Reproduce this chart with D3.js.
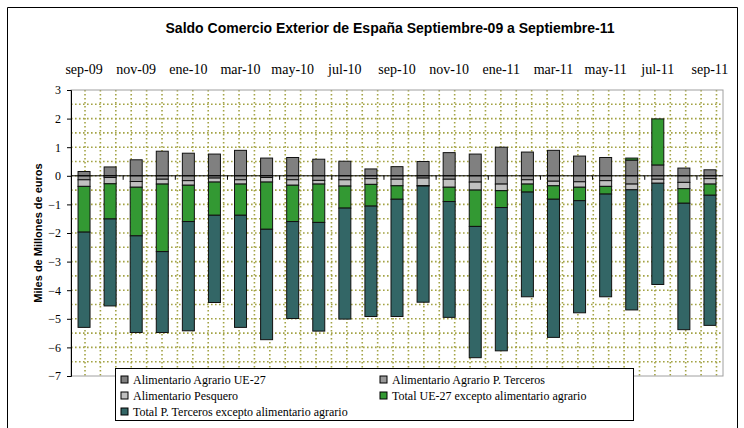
<!DOCTYPE html>
<meta charset="utf-8">
<style>
body { margin: 0; }
</style>
<svg width="744" height="428" font-family="Liberation Serif"></svg>
<script src="https://cdn.jsdelivr.net/npm/d3@7"></script>
<script>

// months on the x axis
var months = ["sep-09","oct-09","nov-09","dic-09","ene-10","feb-10","mar-10","abr-10",
  "may-10","jun-10","jul-10","ago-10","sep-10","oct-10","nov-10","dic-10","ene-11",
  "feb-11","mar-11","abr-11","may-11","jun-11","jul-11","ago-11","sep-11"];

// series, miles de millones de euros
var agrarioUE = [0.15,0.31,0.56,0.86,0.79,0.76,0.89,0.62,0.64,0.58,0.51,0.24,0.32,
  0.50,0.81,0.76,1.00,0.83,0.89,0.69,0.64,0.55,0.38,0.27,0.21];
var agrarioTerceros = [-0.14,-0.06,-0.20,-0.12,-0.17,-0.08,-0.14,-0.06,-0.14,-0.16,-0.14,
  -0.10,-0.12,-0.08,-0.12,-0.22,-0.29,-0.14,-0.19,-0.21,-0.17,-0.29,-0.12,-0.23,-0.10];
var pesquero = [-0.23,-0.22,-0.20,-0.17,-0.16,-0.14,-0.15,-0.16,-0.19,-0.13,-0.22,-0.20,
  -0.23,-0.26,-0.28,-0.28,-0.23,-0.15,-0.16,-0.19,-0.20,-0.20,-0.14,-0.22,-0.19];
var totalUE = [-1.60,-1.23,-1.70,-2.36,-1.27,-1.16,-1.09,-1.65,-1.27,-1.34,-0.77,-0.76,
  -0.47,-0.02,-0.50,-1.27,-0.59,-0.28,-0.47,-0.47,-0.27,0.07,1.61,-0.51,-0.39];
var totalTerceros = [-3.33,-3.04,-3.38,-2.83,-3.82,-3.05,-3.92,-3.86,-3.39,-3.80,-3.88,
  -3.86,-4.10,-4.06,-4.05,-4.59,-5.01,-3.66,-4.83,-3.92,-3.59,-4.20,-3.54,-4.42,-4.55];

var seriesNames = ["Alimentario Agrario UE-27", "Alimentario Agrario P. Terceros",
  "Alimentario Pesquero", "Total UE-27 excepto alimentario agrario",
  "Total P. Terceros excepto alimentario agrario"];
var seriesValues = [agrarioUE, agrarioTerceros, pesquero, totalUE, totalTerceros];
var colors = ["#808080", "#999999", "#c0c0c0", "#339933", "#336666"];
var yTicks = [3, 2, 1, 0, -1, -2, -3, -4, -5, -6, -7];

var svg = d3.select("svg"),
    plot = {left: 71, right: 723, top: 90, bottom: 376};

// chart frame
svg.append("path")
    .attr("d", "M7.5,440V7.5H737.5V440")
    .attr("fill", "none")
    .attr("stroke", "#000");

svg.append("text")
    .attr("x", 390)
    .attr("y", 33)
    .attr("text-anchor", "middle")
    .attr("font-family", "Liberation Sans")
    .attr("font-size", 14)
    .attr("font-weight", "bold")
    .text("Saldo Comercio Exterior de España Septiembre-09 a Septiembre-11");

var table = months.map(function(m, i) {
  var row = {month: m};
  seriesNames.forEach(function(s, j) { row[s] = seriesValues[j][i]; });
  return row;
});

var stack = d3.stack()
    .keys(seriesNames)
    .offset(d3.stackOffsetDiverging);
var layers = stack(table);

var x = d3.scaleBand().domain(months)
    .range([plot.left, plot.right])
    .paddingInner(0.54).paddingOuter(0.27);
var y = d3.scaleLinear().domain([-7, 3]).range([plot.bottom, plot.top]);

// dotted grid
var grid = svg.append("g")
    .attr("stroke", "#a3a345")
    .attr("stroke-width", 1.6)
    .attr("stroke-dasharray", "1.6 2.4");
grid.selectAll(".h")
  .data(d3.range(-6.5, 3, 0.5))
  .enter().append("line")
    .attr("x1", plot.left).attr("x2", plot.right)
    .attr("y1", function(d) { return y(d); })
    .attr("y2", function(d) { return y(d); });
var gx = d3.scaleLinear().domain([0, 41]).range([plot.left + 14, plot.right - 6.5]);
grid.selectAll(".v")
  .data(d3.range(42))
  .enter().append("line")
    .attr("y1", plot.top).attr("y2", plot.bottom)
    .attr("x1", function(d) { return gx(d); })
    .attr("x2", function(d) { return gx(d); });

svg.append("rect")
    .attr("x", plot.left).attr("y", plot.top)
    .attr("width", plot.right - plot.left).attr("height", plot.bottom - plot.top)
    .attr("fill", "none").attr("stroke", "#a0a0a0");

// bars
svg.append("g").selectAll("g")
  .data(layers)
  .enter().append("g")
    .attr("fill", function(d, i) { return colors[i]; })
  .selectAll("rect")
  .data(function(d) { return d; })
  .enter().append("rect")
    .attr("x", function(d) { return x(d.data.month); })
    .attr("width", x.bandwidth())
    .attr("y", function(d) { return y(Math.max(d[0], d[1])); })
    .attr("height", function(d) { return Math.abs(y(d[0]) - y(d[1])); })
    .attr("stroke", "#111")
    .attr("stroke-width", 1);

// zero line with ticks every two months
svg.append("line")
    .attr("x1", plot.left).attr("x2", plot.right)
    .attr("y1", y(0)).attr("y2", y(0))
    .attr("stroke", "#000");
svg.append("g").selectAll("line")
  .data(d3.range(2, 25, 2))
  .enter().append("line")
    .attr("x1", function(d) { return plot.left + d * x.step(); })
    .attr("x2", function(d) { return plot.left + d * x.step(); })
    .attr("y1", y(0)).attr("y2", y(0) + 4)
    .attr("stroke", "#000");

// y axis
svg.append("g")
    .attr("transform", "translate(" + plot.left + ",0)")
    .call(d3.axisLeft(y).tickValues(yTicks).tickSize(4).tickPadding(6).tickFormat(d3.format("d")))
    .attr("font-family", "Liberation Serif")
    .attr("font-size", 12)
    .call(function(g) {
      g.selectAll("path, line").attr("stroke", "#000");
      g.selectAll("text")
        .attr("fill", "#000")
        .attr("font-family", "Liberation Serif")
        .attr("font-size", 12);
    });

// month labels above the plot
svg.append("g")
  .selectAll("text")
  .data(months.filter(function(d, i) { return i % 2 === 0; }))
  .enter().append("text")
    .attr("x", function(d) { return x(d) + x.bandwidth() / 2; })
    .attr("y", 74)
    .attr("text-anchor", "middle")
    .attr("font-family", "Liberation Serif")
    .attr("font-size", 14)
    .text(function(d) { return d; });

svg.append("text")
    .attr("transform", "translate(42," + (plot.top + plot.bottom) / 2 + ") rotate(-90)")
    .attr("text-anchor", "middle")
    .attr("font-family", "Liberation Sans")
    .attr("font-size", 11)
    .attr("font-weight", "bold")
    .text("Miles de Millones de euros");

// legend
var legend = svg.append("g").attr("font-size", 12);
legend.append("rect")
    .attr("x", 115.5).attr("y", 368.5)
    .attr("width", 518).attr("height", 52)
    .attr("fill", "#fff").attr("stroke", "#000");
var item = legend.selectAll("g")
  .data(seriesNames)
  .enter().append("g")
    .attr("transform", function(d, i) {
      return "translate(" + (i % 2 ? 380 : 121) + "," + (376 + Math.floor(i / 2) * 16) + ")";
    });
item.append("rect")
    .attr("width", 7).attr("height", 7)
    .attr("fill", function(d, i) { return colors[i]; })
    .attr("stroke", "#000");
item.append("text")
    .attr("x", 12).attr("y", 8)
    .attr("font-family", "Liberation Serif")
    .text(function(d) { return d; });

</script>
